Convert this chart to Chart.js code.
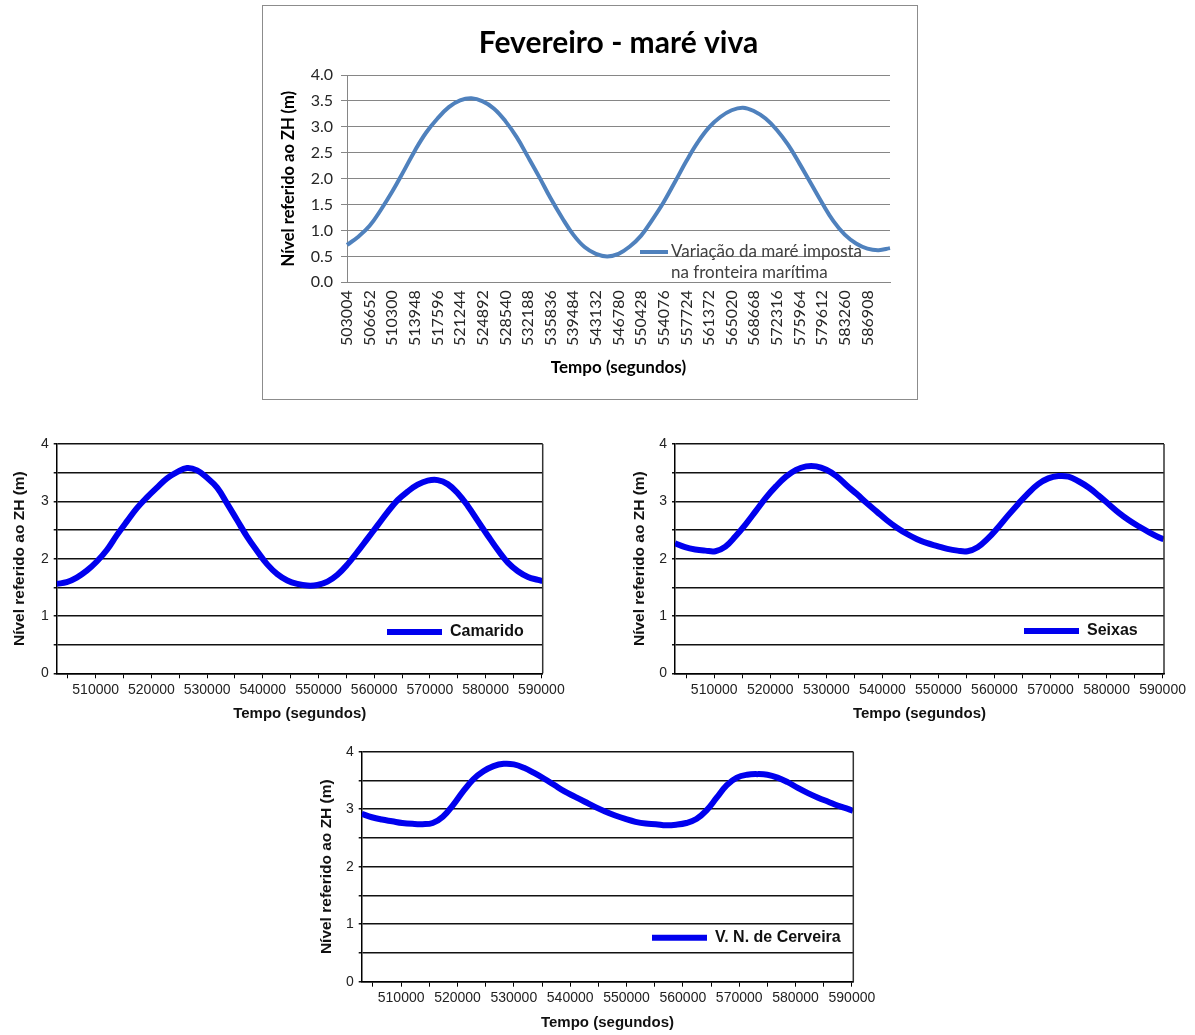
<!DOCTYPE html>
<html>
<head>
<meta charset="utf-8">
<script src="https://cdn.jsdelivr.net/npm/chart.js@4.4.1/dist/chart.umd.min.js"></script>
<style>
  html, body { margin: 0; padding: 0; background: #fff; }
  body { position: relative; width: 1195px; height: 1035px; overflow: hidden; }
  #topBox { position: absolute; left: 262px; top: 5px; width: 656px; height: 395px;
            box-sizing: border-box; border: 1px solid #8c8c8c; background: #fff; }
  canvas { position: absolute; }
</style>
</head>
<body>
<div id="topBox"><canvas id="cTop" width="654" height="393" style="left:0;top:0"></canvas></div>
<canvas id="cCam" width="575" height="290" style="left:0;top:435px"></canvas>
<canvas id="cSei" width="575" height="290" style="left:620px;top:435px"></canvas>
<canvas id="cCer" width="585" height="295" style="left:300px;top:740px"></canvas>
<script>
// ---- Imposed tide at the sea boundary (February, spring tide) ----
const topTimes = [
  503004, 504828, 506652, 508476, 510300, 512124, 513948, 515772, 517596, 519420,
  521244, 523068, 524892, 526716, 528540, 530364, 532188, 534012, 535836, 537660,
  539484, 541308, 543132, 544956, 546780, 548604, 550428, 552252, 554076, 555900,
  557724, 559548, 561372, 563196, 565020, 566844, 568668, 570492, 572316, 574140,
  575964, 577788, 579612, 581436, 583260, 585084, 586908, 588732, 590556
];
const topLevels = [
  0.72, 0.88, 1.09, 1.40, 1.75, 2.14, 2.54, 2.89, 3.16, 3.38,
  3.51, 3.55, 3.49, 3.35, 3.11, 2.80, 2.42, 2.03, 1.62, 1.25,
  0.92, 0.68, 0.55, 0.50, 0.55, 0.69, 0.90, 1.21, 1.55, 1.94,
  2.34, 2.70, 2.99, 3.19, 3.32, 3.37, 3.30, 3.16, 2.94, 2.65,
  2.29, 1.91, 1.53, 1.18, 0.92, 0.75, 0.65, 0.62, 0.66
];
const topTickLabels = [
  '503004', '506652', '510300', '513948', '517596', '521244', '524892', '528540',
  '532188', '535836', '539484', '543132', '546780', '550428', '554076', '557724',
  '561372', '565020', '568668', '572316', '575964', '579612', '583260', '586908'
];

// ---- Computed water level at three river stations ----
const stationTimes = [
  503000, 504800, 506600, 508400, 510200, 512000, 513800, 515600, 517400, 519200,
  521000, 522800, 524600, 526400, 528200, 530000, 531800, 533600, 535400, 537200,
  539000, 540800, 542600, 544400, 546200, 548000, 549800, 551600, 553400, 555200,
  557000, 558800, 560600, 562400, 564200, 566000, 567800, 569600, 571400, 573200,
  575000, 576800, 578600, 580400, 582200, 584000, 585800, 587600, 589400, 590200
];
const camarido = [
  1.56, 1.59, 1.67, 1.79, 1.95, 2.15, 2.41, 2.65, 2.88, 3.07,
  3.24, 3.40, 3.51, 3.58, 3.54, 3.41, 3.24, 2.96, 2.67, 2.38,
  2.13, 1.90, 1.73, 1.62, 1.56, 1.53, 1.54, 1.60, 1.72, 1.90,
  2.12, 2.35, 2.58, 2.81, 3.02, 3.17, 3.29, 3.36, 3.37, 3.30,
  3.14, 2.92, 2.66, 2.40, 2.15, 1.93, 1.78, 1.68, 1.63, 1.61
];
const seixas = [
  2.27, 2.20, 2.16, 2.14, 2.13, 2.21, 2.39, 2.60, 2.83, 3.06,
  3.26, 3.43, 3.55, 3.61, 3.61, 3.55, 3.44, 3.28, 3.13, 2.97,
  2.82, 2.67, 2.54, 2.43, 2.34, 2.27, 2.22, 2.17, 2.14, 2.13,
  2.20, 2.35, 2.54, 2.75, 2.95, 3.14, 3.30, 3.40, 3.44, 3.43,
  3.35, 3.24, 3.10, 2.95, 2.80, 2.67, 2.56, 2.46, 2.37, 2.34
];
const cerveira = [
  2.92, 2.86, 2.82, 2.79, 2.76, 2.745, 2.74, 2.76, 2.87, 3.07,
  3.31, 3.52, 3.66, 3.75, 3.79, 3.78, 3.72, 3.63, 3.53, 3.42,
  3.31, 3.22, 3.13, 3.04, 2.96, 2.89, 2.83, 2.78, 2.75, 2.74,
  2.72, 2.73, 2.76, 2.83, 2.98, 3.20, 3.42, 3.55, 3.60, 3.61,
  3.60, 3.55, 3.47, 3.37, 3.28, 3.20, 3.13, 3.06, 3.00, 2.97
];
const stationTickLabels = [510000, 520000, 530000, 540000, 550000, 560000, 570000, 580000, 590000];
const stationMinorTicks = [505000, 515000, 525000, 535000, 545000, 555000, 565000, 575000, 585000];

const titleText = 'Fevereiro - maré viva';
const yTitle = 'Nível referido ao ZH (m)';
const xTitle = 'Tempo (segundos)';

// Fix the axis boxes so the plot areas sit where intended
const pinY = w => s => { s.width = w; s.paddingTop = 0; s.paddingBottom = 0; };
const pinX = h => s => { s.height = h; s.paddingLeft = 0; s.paddingRight = 0; };

// Legend drawn inside the plot area: a line sample followed by the series name
const inlineLegend = {
  id: 'inlineLegend',
  afterDatasetsDraw(chart, args, o) {
    if (!o || o.x === undefined) return;
    const ds = chart.data.datasets[0];
    const ctx = chart.ctx;
    ctx.save();
    ctx.strokeStyle = ds.borderColor;
    ctx.lineWidth = o.lineWidth;
    ctx.lineCap = 'butt';
    ctx.beginPath();
    ctx.moveTo(o.x, o.y);
    ctx.lineTo(o.x + o.len, o.y);
    ctx.stroke();
    ctx.font = o.font;
    ctx.fillStyle = o.color;
    ctx.textBaseline = 'middle';
    ctx.textAlign = 'left';
    const words = ds.label.split(' ');
    const lines = [];
    let cur = '';
    for (const w of words) {
      const t = cur ? cur + ' ' + w : w;
      if (cur && ctx.measureText(t).width > o.maxWidth) { lines.push(cur); cur = w; }
      else cur = t;
    }
    lines.push(cur);
    lines.forEach((l, i) => ctx.fillText(l, o.x + o.len + o.gap, o.y + i * o.lineHeight));
    ctx.restore();
  }
};

// Right-hand frame line of the plot area
const plotFrame = {
  id: 'plotFrame',
  afterDraw(chart, args, o) {
    if (!o || !o.right) return;
    const {ctx, chartArea: a} = chart;
    ctx.save();
    ctx.strokeStyle = o.color;
    ctx.lineWidth = o.width;
    ctx.beginPath();
    ctx.moveTo(a.right, a.top);
    ctx.lineTo(a.right, a.bottom);
    ctx.stroke();
    ctx.restore();
  }
};

Chart.register(inlineLegend, plotFrame);

function drawTop() {
  new Chart(document.getElementById('cTop'), {
    type: 'line',
    data: {
      labels: topTimes.map(String),
      datasets: [{
        label: 'Variação da maré imposta na fronteira marítima',
        data: topLevels,
        borderColor: '#4F81BD',
        borderWidth: 4,
        pointRadius: 0,
        tension: 0.4,
        fill: false
      }]
    },
    options: {
      responsive: false, animation: false, events: [],
      layout: { padding: { left: 0, right: 27, top: 0, bottom: 0 } },
      plugins: {
        legend: { display: false },
        tooltip: { enabled: false },
        title: {
          display: true, fullSize: false, text: titleText, color: '#000',
          font: { family: 'Lato', size: 30, weight: 'bold' },
          padding: { top: 19, bottom: 14 }
        },
        inlineLegend: {
          x: 377, y: 246, len: 28, gap: 3, lineWidth: 4, lineHeight: 21, maxWidth: 200,
          font: '17px Lato', color: '#404040'
        }
      },
      scales: {
        x: {
          type: 'category', offset: false,
          grid: { display: false },
          border: { color: '#868686', width: 1 },
          ticks: {
            autoSkip: false, minRotation: 90, maxRotation: 90, padding: 0,
            color: '#262626', font: { family: 'Lato', size: 16 },
            callback(v) { const l = this.getLabelForValue(v); return topTickLabels.includes(l) ? l : ''; }
          },
          title: {
            display: true, text: xTitle, color: '#000',
            font: { family: 'Lato', size: 17, weight: 'bold' },
            padding: { top: 0, bottom: 21 }
          },
          afterFit: pinX(116.7)
        },
        y: {
          min: 0, max: 4,
          ticks: {
            stepSize: 0.5, padding: 8, color: '#262626',
            font: { family: 'Lato', size: 16 },
            callback: v => v.toFixed(1)
          },
          grid: { color: '#868686', lineWidth: 1, tickLength: 6 },
          border: { color: '#868686', width: 1 },
          title: {
            display: true, text: yTitle, color: '#000',
            font: { family: 'Lato', size: 16.5, weight: 'bold' },
            padding: { top: 16, bottom: 0 }
          },
          afterFit: pinY(84)
        }
      }
    }
  });
}

function drawStation(id, name, levels, g) {
  new Chart(document.getElementById(id), {
    type: 'line',
    data: {
      datasets: [{
        label: name,
        data: stationTimes.map((t, i) => ({ x: t, y: levels[i] })),
        borderColor: '#0000EE',
        borderWidth: 6,
        pointRadius: 0,
        tension: 0.4,
        fill: false
      }]
    },
    options: {
      responsive: false, animation: false, events: [],
      layout: { padding: { left: 0, right: g.right, top: g.top, bottom: 0 } },
      plugins: {
        legend: { display: false },
        tooltip: { enabled: false },
        inlineLegend: {
          x: g.legX, y: g.legY, len: 55, gap: 8, lineWidth: 6, lineHeight: 18, maxWidth: 400,
          font: 'bold 16px "Liberation Sans"', color: '#111'
        },
        plotFrame: { right: true, color: '#333', width: 1.5 }
      },
      scales: {
        x: {
          type: 'linear', min: 503000, max: 590250,
          afterBuildTicks: s => {
            s.ticks = stationMinorTicks.concat(stationTickLabels).sort((a, b) => a - b).map(v => ({ value: v }));
          },
          ticks: {
            autoSkip: false, maxRotation: 0, minRotation: 0, padding: 3,
            color: '#222', font: { family: 'Liberation Sans', size: 14 },
            callback: v => stationTickLabels.includes(v) ? String(v) : ''
          },
          grid: { drawOnChartArea: false, drawTicks: true, tickLength: 5, tickColor: '#000', tickWidth: 1 },
          border: { color: '#000', width: 1.5 },
          title: {
            display: true, text: xTitle, color: '#111',
            font: { family: 'Liberation Sans', size: 15, weight: 'bold' },
            padding: { top: 0, bottom: g.xtPad }
          },
          afterFit: pinX(g.xh)
        },
        y: {
          min: 0, max: 4,
          ticks: {
            stepSize: 0.5, padding: 5, color: '#222',
            font: { family: 'Liberation Sans', size: 14 },
            callback: v => Number.isInteger(v) ? String(v) : ''
          },
          grid: { color: '#111', lineWidth: 1.5, tickLength: 3, tickColor: '#111' },
          border: { color: '#000', width: 1.5 },
          title: {
            display: true, text: yTitle, color: '#111',
            font: { family: 'Liberation Sans', size: 15.5, weight: 'bold' },
            padding: { top: g.ytPad, bottom: 0 }
          },
          afterFit: pinY(g.yw)
        }
      }
    }
  });
}

function drawAll() {
  drawTop();
  drawStation('cCam', 'Camarido', camarido,
    { right: 32.3, top: 9, xh: 51.7, yw: 56.7, xtPad: 2, ytPad: 10.7, legX: 387, legY: 197 });
  drawStation('cSei', 'Seixas', seixas,
    { right: 31, top: 9, xh: 51.7, yw: 55, xtPad: 2, ytPad: 10.7, legX: 404, legY: 196 });
  drawStation('cCer', 'V. N. de Cerveira', cerveira,
    { right: 31.7, top: 11.7, xh: 53.3, yw: 61.7, xtPad: 3, ytPad: 17.7, legX: 352, legY: 197.7 });
}

if (document.fonts && document.fonts.ready) document.fonts.ready.then(drawAll);
else drawAll();
</script>
</body>
</html>
